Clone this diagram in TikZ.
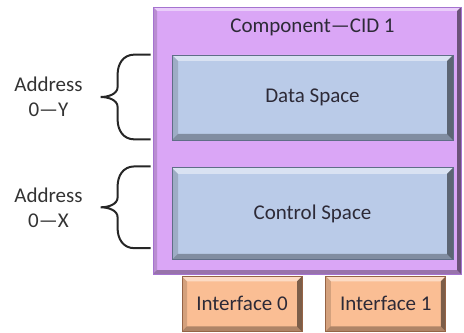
\documentclass[tikz,border=0pt]{standalone}
\usepackage{fontspec}
\setmainfont{Carlito}
\usetikzlibrary{positioning, calc}

\definecolor{compviolet}{RGB}{218,166,246}
\definecolor{compedge}{RGB}{165,115,208}
\definecolor{spaceblue}{RGB}{186,203,232}
\definecolor{spaceedge}{RGB}{95,110,135}
\definecolor{ifaceorange}{RGB}{250,190,148}
\definecolor{ifaceedge}{RGB}{150,100,70}
\definecolor{textdark}{RGB}{45,42,55}

\tikzset{
  bevel/.style={path picture={
    \coordinate (nw) at (path picture bounding box.north west);
    \coordinate (se) at (path picture bounding box.south east);
    \fill[white, opacity=.45] (nw) -- (nw -| se) -- ++(-#1,-#1) -- ([shift={(#1,-#1)}]nw) -- cycle;
    \fill[black, opacity=.5] (se) -- (nw -| se) -- ++(-#1,-#1) -- ([shift={(-#1,#1)}]se) -- cycle;
    \fill[black, opacity=.3] (se) -- (se -| nw) -- ++(#1,#1) -- ([shift={(-#1,#1)}]se) -- cycle;
    \fill[black, opacity=.15] (nw) -- (se -| nw) -- ++(#1,#1) -- ([shift={(#1,-#1)}]nw) -- cycle;
  }},
  spacebox/.style={draw=spaceedge, fill=spaceblue, bevel=3pt, minimum width=140.5pt, inner sep=0pt, text=textdark},
  ifacebox/.style={draw=ifaceedge, fill=ifaceorange, bevel=2.5pt, minimum width=60pt, minimum height=27.5pt, inner sep=0pt, text=textdark},
  addrlabel/.style={align=center, text=black!80},
  bracestroke/.style={line width=1pt, draw=black!85},
}

% curly brace from #1 (top) to #2 (bottom), tip named #3
\newcommand{\addrbrace}[3]{%
  \coordinate (#3) at ($(#1)!.5!(#2)+(-25pt,0)$);
  \draw[bracestroke] (#1) -- ++(-8pt,0)
    .. controls +(-6pt,0) and +(0,5pt) .. ($(#1)+(-16.5pt,-10pt)$)
    -- ($(#3)+(8.5pt,5pt)$)
    .. controls +(0,-3.5pt) and +(4pt,0) .. (#3)
    .. controls +(4pt,0) and +(0,3.5pt) .. ($(#3)+(8.5pt,-5pt)$)
    -- ($(#2)+(-16.5pt,10pt)$)
    .. controls +(0,-5pt) and +(-6pt,0) .. ($(#2)+(-8pt,0)$)
    -- (#2);
}

\begin{document}
\begin{tikzpicture}[every node/.style={font=\fontsize{10.5}{12.5}\selectfont}]
  \useasboundingbox (0,0) rectangle (232pt,166pt);
  % Component
  \node[draw=compedge, fill=compviolet, bevel=2pt, minimum width=154pt, minimum height=133.5pt, inner sep=0pt] (comp) at (153.5pt,95.75pt) {};
  \node[spacebox, minimum height=42.5pt, below=24pt of comp.north, xshift=2.75pt] (data) {Data Space};
  \node[spacebox, minimum height=46pt, below=13.5pt of data] (ctrl) {Control Space};
  \node[text=textdark] (cid) at ($(comp.north -| data)+(0,-10.5pt)$) {Component—CID 1};
  % Interfaces
  \node[ifacebox, below right=0.75pt and 14.5pt of comp.south west] (if0) {Interface 0};
  \node[ifacebox, right=11.5pt of if0] (if1) {Interface 1};
  % Address ranges
  \coordinate (dtop) at ($(data.north -| comp.west)+(-1pt,0)$);
  \coordinate (dbot) at ($(data.south -| comp.west)+(-1pt,0.5pt)$);
  \coordinate (ctop) at ($(ctrl.north -| comp.west)+(-1pt,0.5pt)$);
  \coordinate (cbot) at ($(ctrl.south -| comp.west)+(-1pt,6pt)$);
  \addrbrace{dtop}{dbot}{dtip}
  \addrbrace{ctop}{cbot}{ctip}
  \node[addrlabel, left=5.5pt of dtip] (daddr) {Address\\0—Y};
  \node[addrlabel, left=5.5pt of ctip] (caddr) {Address\\0—X};
\end{tikzpicture}
\end{document}
